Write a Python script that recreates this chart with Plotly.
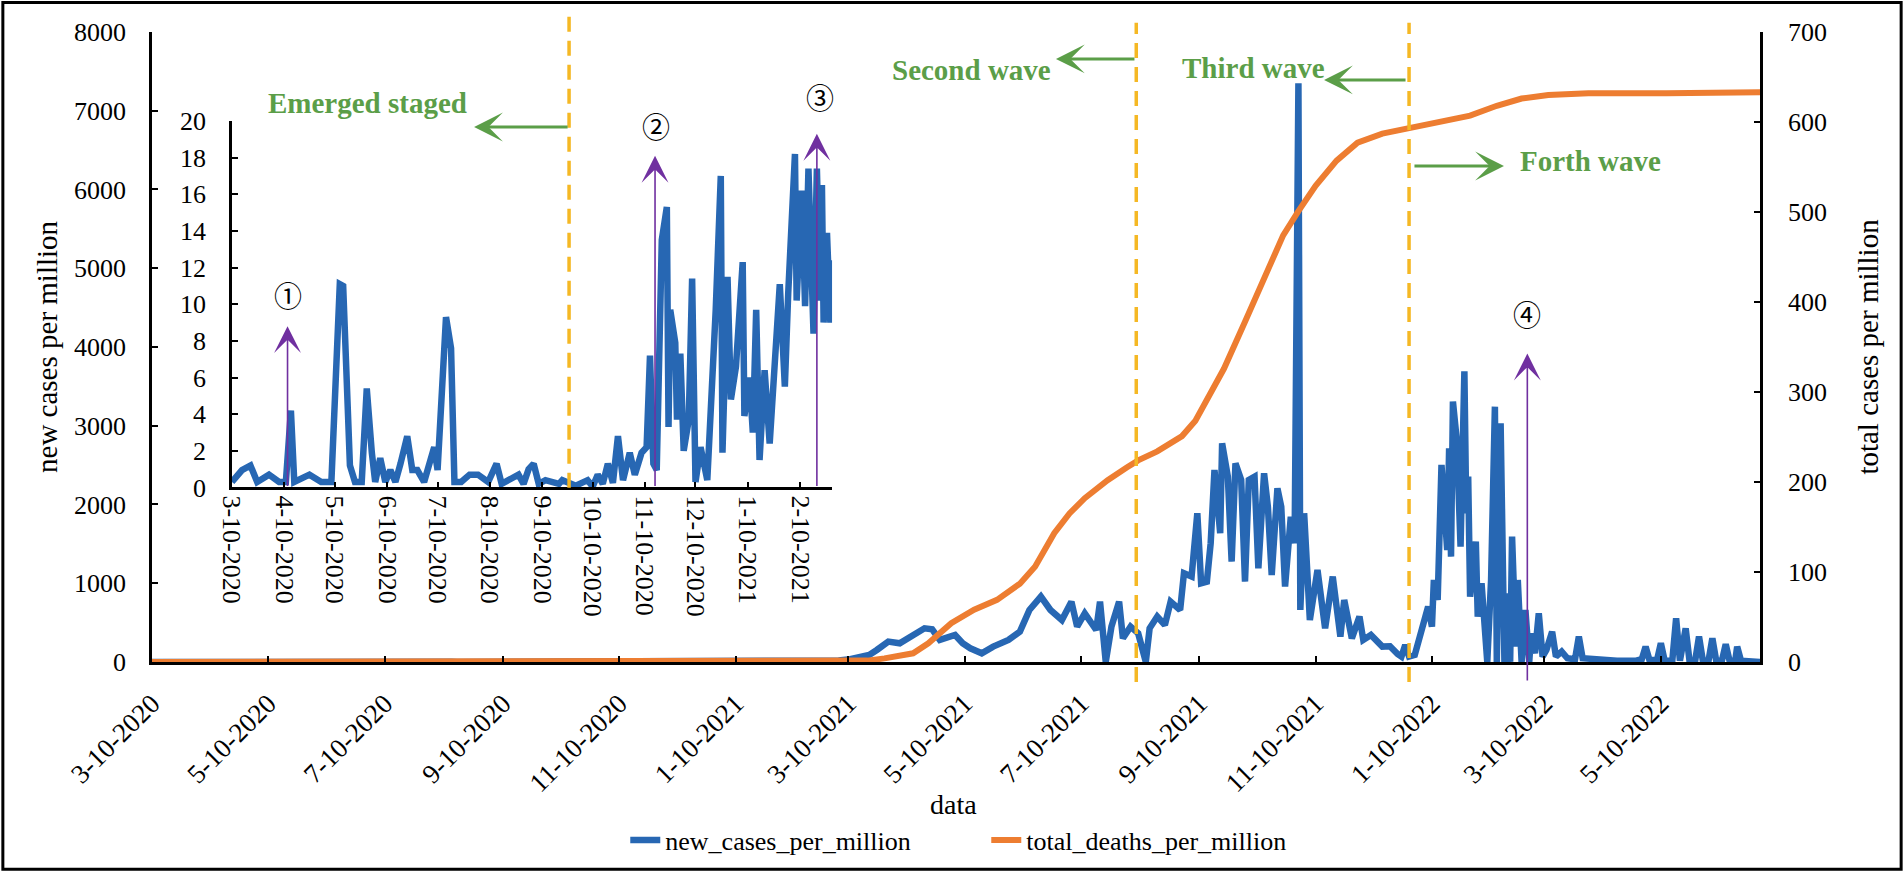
import plotly.graph_objects as go

# ---- data ----
# new cases per million, early period (also drawn in the inset, 0-20 scale)
early_dates = [
    '2020-03-10', '2020-03-16', '2020-03-21', '2020-03-25',
    '2020-04-01', '2020-04-07', '2020-04-11', '2020-04-14', '2020-04-16', '2020-04-25',
    '2020-05-02', '2020-05-08', '2020-05-13', '2020-05-15', '2020-05-19', '2020-05-22', '2020-05-26', '2020-05-29',
    '2020-06-01', '2020-06-03', '2020-06-06', '2020-06-09', '2020-06-12', '2020-06-15', '2020-06-18', '2020-06-22',
    '2020-06-25', '2020-06-28',
    '2020-07-02', '2020-07-08', '2020-07-10', '2020-07-15', '2020-07-18', '2020-07-20', '2020-07-24', '2020-07-29',
    '2020-08-03', '2020-08-09', '2020-08-14', '2020-08-17', '2020-08-27', '2020-08-30',
    '2020-09-02', '2020-09-05', '2020-09-08', '2020-09-12', '2020-09-20', '2020-09-22', '2020-09-30',
    '2020-10-07', '2020-10-10', '2020-10-13', '2020-10-16', '2020-10-19', '2020-10-22', '2020-10-25', '2020-10-28',
    '2020-11-01', '2020-11-04', '2020-11-08', '2020-11-11', '2020-11-13', '2020-11-15', '2020-11-17', '2020-11-20',
    '2020-11-23', '2020-11-24', '2020-11-25', '2020-11-28', '2020-11-29',
    '2020-12-01', '2020-12-03', '2020-12-06', '2020-12-08', '2020-12-10', '2020-12-13', '2020-12-17', '2020-12-20',
    '2020-12-22', '2020-12-25', '2020-12-26', '2020-12-29', '2020-12-31',
    '2021-01-03', '2021-01-07', '2021-01-08', '2021-01-11', '2021-01-13', '2021-01-15', '2021-01-17', '2021-01-20',
    '2021-01-23', '2021-01-26', '2021-01-29',
    '2021-02-01', '2021-02-03', '2021-02-07', '2021-02-08', '2021-02-11', '2021-02-13', '2021-02-15', '2021-02-17',
    '2021-02-18', '2021-02-20', '2021-02-22', '2021-02-23', '2021-02-24', '2021-02-26', '2021-02-28',
    '2021-03-01',
]
early_cases = [
    0.3, 0.95, 1.2, 0.3,
    0.7, 0.3, 0.3, 4.2, 0.3, 0.7,
    0.3, 0.3, 11.1, 11.0, 1.2, 0.3, 0.3, 5.4,
    1.9, 0.3, 1.6, 0.3, 0.95, 0.3, 1.3, 2.8, 0.95, 0.95,
    0.3, 2.2, 0.95, 9.3, 7.6, 0.3, 0.3, 0.7,
    0.7, 0.3, 1.3, 0.2, 0.7, 0.2,
    1.0, 1.3, 0.2, 0.4, 0.2, 0.4, 0.1,
    0.4, 0.05, 0.7, 0.2, 1.3, 0.25, 2.8, 0.4,
    1.9, 0.7, 1.9, 2.2, 7.2, 1.3, 0.95, 13.5, 15.3, 3.3, 9.7, 7.9, 3.7,
    7.3, 2.0, 3.7, 11.4, 0.3, 2.2, 0.4, 5.5, 9.7, 17.0, 1.9, 11.5, 4.8,
    6.6, 12.3, 3.9, 6.0, 3.0, 9.7, 1.5, 6.4, 2.4, 6.2, 11.1,
    5.5, 10.6, 18.2, 10.2, 16.2, 9.9, 17.4, 9.5, 8.4, 17.4, 10.2, 16.5, 9.0, 13.9, 9.0,
    12.4,
]

# new cases per million, rest of the period (main chart only)
later_dates = [
    '2021-03-05', '2021-03-11', '2021-03-17', '2021-03-21', '2021-03-25', '2021-03-31',
    '2021-04-06', '2021-04-14', '2021-04-19', '2021-04-23', '2021-04-27',
    '2021-05-05', '2021-05-09', '2021-05-13', '2021-05-19', '2021-05-25',
    '2021-06-02', '2021-06-08', '2021-06-13', '2021-06-19', '2021-06-24', '2021-06-30',
    '2021-07-05', '2021-07-08', '2021-07-12', '2021-07-18', '2021-07-20', '2021-07-23', '2021-07-26', '2021-07-30',
    '2021-08-01', '2021-08-05', '2021-08-09', '2021-08-13', '2021-08-15', '2021-08-19', '2021-08-23', '2021-08-26',
    '2021-08-31',
    '2021-09-02', '2021-09-06', '2021-09-09', '2021-09-11', '2021-09-14', '2021-09-16', '2021-09-18', '2021-09-21',
    '2021-09-22', '2021-09-25', '2021-09-27', '2021-09-29',
    '2021-10-02', '2021-10-04', '2021-10-06', '2021-10-09', '2021-10-11', '2021-10-14', '2021-10-16', '2021-10-18',
    '2021-10-21', '2021-10-23', '2021-10-25', '2021-10-28', '2021-10-30',
    '2021-11-01', '2021-11-02', '2021-11-04', '2021-11-07', '2021-11-11', '2021-11-15', '2021-11-19', '2021-11-23',
    '2021-11-25', '2021-11-29',
    '2021-12-03', '2021-12-05', '2021-12-09', '2021-12-15', '2021-12-19', '2021-12-23', '2021-12-25', '2021-12-27',
    '2021-12-29',
    '2022-01-01', '2022-01-04', '2022-01-06', '2022-01-08', '2022-01-10', '2022-01-11', '2022-01-13', '2022-01-15',
    '2022-01-18', '2022-01-19', '2022-01-20', '2022-01-21', '2022-01-23', '2022-01-25', '2022-01-27', '2022-01-28',
    '2022-01-29', '2022-01-30',
    '2022-02-02', '2022-02-03', '2022-02-05', '2022-02-08', '2022-02-10', '2022-02-12', '2022-02-13', '2022-02-15',
    '2022-02-17', '2022-02-18', '2022-02-20', '2022-02-21', '2022-02-23', '2022-02-24', '2022-02-26', '2022-02-28',
    '2022-03-02', '2022-03-03', '2022-03-05', '2022-03-07', '2022-03-09', '2022-03-11', '2022-03-14', '2022-03-16',
    '2022-03-19', '2022-03-22', '2022-03-26', '2022-03-28', '2022-03-30',
    '2022-04-06', '2022-04-17', '2022-04-27', '2022-04-30',
    '2022-05-02', '2022-05-04', '2022-05-08', '2022-05-10', '2022-05-12', '2022-05-16', '2022-05-18', '2022-05-20',
    '2022-05-23', '2022-05-25', '2022-05-28', '2022-05-30',
    '2022-06-01', '2022-06-04', '2022-06-06', '2022-06-08', '2022-06-11', '2022-06-13', '2022-06-15', '2022-06-18',
    '2022-06-19', '2022-06-21',
    '2022-07-01',
]
later_cases = [
    20, 35, 60, 90, 152, 258,
    237, 364, 427, 415, 280,
    343, 237, 173, 110, 195,
    280, 385, 660, 830, 660, 533,
    766, 449, 618, 406, 766, 0, 449, 766,
    300, 449, 364, 0, 427, 576, 470, 766, 660,
    1126, 1084, 1888, 999, 1020, 1507, 2438, 1634, 2777, 2353, 1274, 2523,
    2311, 1020, 2311, 2353, 1189, 2396, 1972, 1105, 2205, 1972, 957, 1845, 1507,
    7350, 660, 1888, 533, 1168, 427, 1084, 322, 787, 300,
    576, 280, 343, 195, 200, 100, 68, 216, 68,
    89, 364, 533, 703, 449, 1041, 787, 2502, 1422, 2713, 1337, 3306, 2819, 1465, 3690, 1888, 2353, 830,
    1528, 576, 999, 0, 1041, 3242, 0, 3031, 0, 872, 0, 1592, 195, 1041, 0, 660,
    0, 364, 110, 618, 68, 152, 385, 68, 131, 47, 34, 322, 47,
    34, 17, 17, 34,
    195, 25, 25, 237, 17, 17, 555, 17, 427, 17, 17, 322,
    17, 17, 300, 17, 17, 224, 17, 17, 195, 17,
    0,
]

# total deaths per million (right axis)
death_dates = [
    '2020-03-10', '2021-01-01', '2021-03-10', '2021-03-20', '2021-03-29', '2021-04-06', '2021-04-13', '2021-04-21',
    '2021-05-03', '2021-05-15', '2021-05-27', '2021-06-08', '2021-06-16', '2021-06-26', '2021-07-04', '2021-07-12',
    '2021-07-24', '2021-08-03', '2021-08-09', '2021-08-19', '2021-09-01', '2021-09-08', '2021-09-14', '2021-09-23',
    '2021-10-04', '2021-10-14', '2021-10-24', '2021-11-01', '2021-11-10', '2021-11-21', '2021-12-02', '2021-12-15',
    '2021-12-29', '2022-01-11', '2022-01-30', '2022-02-13', '2022-02-26', '2022-03-12', '2022-04-02', '2022-05-13',
    '2022-07-01',
]
total_deaths = [
    0, 0, 0.4, 1.5, 4, 7, 9.6, 20.7,
    43, 58, 69, 87, 106, 143, 165, 182,
    202, 216, 224, 234, 251, 268, 290, 326,
    378, 426, 474, 501, 529, 557, 577, 587,
    593, 599, 607, 618, 626, 630, 632, 632,
    633,
]

main_tick_dates = ['2020-03-10', '2020-05-10', '2020-07-10', '2020-09-10', '2020-11-10', '2021-01-10', '2021-03-10',
                   '2021-05-10', '2021-07-10', '2021-09-10', '2021-11-10', '2022-01-10', '2022-03-10', '2022-05-10']
main_tick_text = ['3-10-2020', '5-10-2020', '7-10-2020', '9-10-2020', '11-10-2020', '1-10-2021', '3-10-2021',
                  '5-10-2021', '7-10-2021', '9-10-2021', '11-10-2021', '1-10-2022', '3-10-2022', '5-10-2022']
inset_tick_dates = ['2020-03-10', '2020-04-10', '2020-05-10', '2020-06-10', '2020-07-10', '2020-08-10',
                    '2020-09-10', '2020-10-10', '2020-11-10', '2020-12-10', '2021-01-10', '2021-02-10']
inset_tick_text = ['3-10-2020', '4-10-2020', '5-10-2020', '6-10-2020', '7-10-2020', '8-10-2020',
                   '9-10-2020', '10-10-2020', '11-10-2020', '12-10-2020', '1-10-2021', '2-10-2021']

wave_lines = ['2021-08-08', '2021-12-29']   # main chart stage boundaries
inset_line = '2020-09-26'                   # end of emerged stage (inset)

BLUE = '#2767B3'
ORANGE = '#ED7D31'
GOLD = '#F5B824'
GREEN = '#5B9E48'
PURPLE = '#7030A0'
SERIF = 'Liberation Serif'

fig = go.Figure()

fig.add_trace(go.Scatter(x=early_dates + later_dates, y=early_cases + later_cases,
                         name='new_cases_per_million', mode='lines',
                         line=dict(color=BLUE, width=6.5), xaxis='x', yaxis='y'))
fig.add_trace(go.Scatter(x=death_dates, y=total_deaths,
                         name='total_deaths_per_million', mode='lines',
                         line=dict(color=ORANGE, width=6), xaxis='x', yaxis='y2'))
# inset: zoom on the early period
fig.add_trace(go.Scatter(x=early_dates, y=early_cases, mode='lines', showlegend=False,
                         line=dict(color=BLUE, width=6.5), xaxis='x2', yaxis='y3'))

axis_common = dict(showgrid=False, zeroline=False, showline=True, linecolor='black',
                   ticks='inside', tickcolor='black', tickwidth=2, ticklen=6,
                   automargin=False, tickfont=dict(size=26, family=SERIF, color='black'))

shapes = []
for d in wave_lines:
    shapes.append(dict(type='line', xref='x', yref='paper', x0=d, x1=d, y0=0.217, y1=0.974,
                       line=dict(color=GOLD, width=3.5, dash='15px,9px')))
shapes.append(dict(type='line', xref='x2', yref='paper', x0=inset_line, x1=inset_line, y0=0.44, y1=0.986,
                   line=dict(color=GOLD, width=3.5, dash='15px,9px')))
# frame around the whole picture
shapes.append(dict(type='rect', xref='paper', yref='paper', x0=0.0015, x1=0.9985, y0=0.002, y1=0.997,
                   line=dict(color='black', width=3)))

annotations = []
# x axis title
annotations.append(dict(text='data', x=0.501, y=0.0769, xref='paper', yref='paper',
                        xanchor='center', yanchor='middle', showarrow=False,
                        font=dict(size=28, color='black', family=SERIF)))
# green stage labels
for txt, x, y in [('Emerged staged', 0.1928, 0.8817), ('Second wave', 0.5100, 0.9196),
                  ('Third wave', 0.6581, 0.9219), ('Forth wave', 0.8351, 0.8152)]:
    annotations.append(dict(text='<b>' + txt + '</b>', x=x, y=y, xref='paper', yref='paper',
                            xanchor='center', yanchor='middle', showarrow=False,
                            font=dict(size=29, color=GREEN, family=SERIF)))
# green arrows (tip position, tail offset in px)
for x, y, ax in [(0.2490, 0.8542, 95), (0.5546, 0.9323, 80), (0.6954, 0.9082, 83), (0.7899, 0.8094, -91)]:
    annotations.append(dict(text='', x=x, y=y, xref='paper', yref='paper', ax=ax, ay=0,
                            showarrow=True, arrowhead=3, arrowsize=1.6, arrowwidth=3,
                            arrowcolor=GREEN, standoff=0))
# purple markers
for x, y, ax, ay, xr, yr in [('2020-04-12', 8.8, '2020-04-12', 0, 'x2', 'y3'),
                             ('2020-11-16', 18.1, '2020-11-16', 0, 'x2', 'y3'),
                             ('2021-02-20', 19.3, '2021-02-20', 0, 'x2', 'y3'),
                             ('2022-03-01', 3916, '2022-03-01', -254, 'x', 'y')]:
    annotations.append(dict(text='', x=x, y=y, xref=xr, yref=yr, ax=ax, ay=ay, axref=xr, ayref=yr,
                            showarrow=True, arrowhead=3, arrowsize=2.8, arrowwidth=1.6,
                            arrowcolor=PURPLE, standoff=0))
for txt, x, y in [('①', 0.1513, 0.6613), ('②', 0.3445, 0.8553), ('③', 0.4307, 0.8886), ('④', 0.8020, 0.6395)]:
    annotations.append(dict(text=txt, x=x, y=y, xref='paper', yref='paper', showarrow=False,
                            xanchor='center', yanchor='middle',
                            font=dict(size=28, color='black', family='Noto Sans CJK JP')))

fig.update_layout(
    template='none',
    width=1904, height=871,
    margin=dict(l=0, r=0, t=0, b=0),
    paper_bgcolor='white', plot_bgcolor='rgba(0,0,0,0)',
    font=dict(family=SERIF, size=26, color='black'),
    xaxis=dict(axis_common, domain=[0.0798, 0.9244], anchor='y', type='date',
               range=['2020-03-10', '2022-07-01'], tickmode='array',
               tickvals=main_tick_dates, ticktext=main_tick_text, tickangle=-45, linewidth=3,
               tickfont=dict(size=27, family=SERIF, color='black'), ticklabelstandoff=12),
    yaxis=dict(axis_common, domain=[0.2400, 0.9633], anchor='x', range=[0, 8000], dtick=1000,
               linewidth=2.5, ticklabelstandoff=18,
               title=dict(text='new cases per million', font=dict(size=29, family=SERIF), standoff=8)),
    yaxis2=dict(axis_common, overlaying='y', anchor='x', side='right', range=[0, 700], dtick=100,
                linewidth=2.5, ticklabelstandoff=20,
                title=dict(text='total cases per million', font=dict(size=29, family=SERIF), standoff=32)),
    xaxis2=dict(axis_common, domain=[0.1218, 0.4370], anchor='y3', type='date',
                range=['2020-03-10', '2021-03-01'], tickmode='array',
                tickvals=inset_tick_dates, ticktext=inset_tick_text, tickangle=90, linewidth=2.5),
    yaxis3=dict(axis_common, domain=[0.4403, 0.8611], anchor='x2', range=[0, 20], dtick=2,
                linewidth=2.5, ticklabelstandoff=18),
    legend=dict(orientation='h', x=0.5180, xanchor='center', y=0.0356, yanchor='middle',
                entrywidth=316, font=dict(size=26, family=SERIF), bgcolor='rgba(0,0,0,0)'),
    shapes=shapes,
    annotations=annotations,
)

fig.write_html("out.html", config={'displayModeBar': False},
               post_script="document.body.style.margin='0';document.body.style.overflow='hidden';")
